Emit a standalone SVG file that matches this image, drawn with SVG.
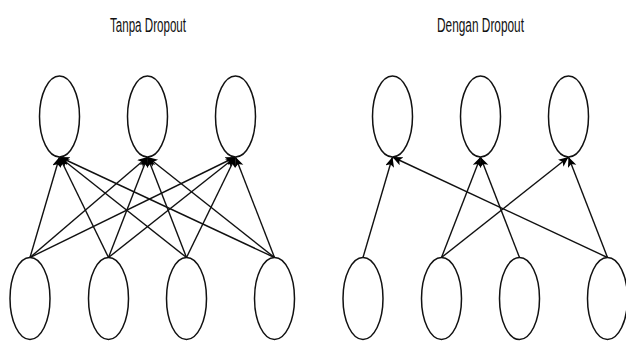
<svg xmlns="http://www.w3.org/2000/svg" width="626" height="341" viewBox="0 0 626 341">
  <style>
    .node { fill: #ffffff; stroke: #111111; stroke-width: 1.5; }
    .edge { fill: none; stroke: #111111; stroke-width: 1.4; marker-end: url(#arrow); }
    .title { font-family: "Liberation Sans", Arial, sans-serif; font-size: 20.5px; fill: #111111; text-anchor: middle; }
  </style>
  <defs>
    <marker id="arrow" markerUnits="userSpaceOnUse" markerWidth="13" markerHeight="11" refX="10" refY="4.5" orient="auto">
      <path d="M0,0 L10,4.5 L0,9 L2.5,4.5 Z" fill="#000000"/>
    </marker>
  </defs>

  <rect width="626" height="341" fill="#ffffff"/>

  <!-- titles -->
  <text class="title" x="148" y="31.5" textLength="76" lengthAdjust="spacingAndGlyphs">Tanpa Dropout</text>
  <text class="title" x="480.5" y="31.5" textLength="87" lengthAdjust="spacingAndGlyphs">Dengan Dropout</text>

  <!-- connectors -->
  <g id="connectors">
    <!-- fully connected: every input to every output -->
    <line class="edge" x1="30" y1="257.5" x2="59.5" y2="157"/>
    <line class="edge" x1="30" y1="257.5" x2="147.5" y2="157"/>
    <line class="edge" x1="30" y1="257.5" x2="235.5" y2="157"/>
    <line class="edge" x1="108.5" y1="257.5" x2="59.5" y2="157"/>
    <line class="edge" x1="108.5" y1="257.5" x2="147.5" y2="157"/>
    <line class="edge" x1="108.5" y1="257.5" x2="235.5" y2="157"/>
    <line class="edge" x1="186.5" y1="257.5" x2="59.5" y2="157"/>
    <line class="edge" x1="186.5" y1="257.5" x2="147.5" y2="157"/>
    <line class="edge" x1="186.5" y1="257.5" x2="235.5" y2="157"/>
    <line class="edge" x1="274.5" y1="257.5" x2="59.5" y2="157"/>
    <line class="edge" x1="274.5" y1="257.5" x2="147.5" y2="157"/>
    <line class="edge" x1="274.5" y1="257.5" x2="235.5" y2="157"/>
    <!-- thinned network -->
    <line class="edge" x1="363" y1="257.5" x2="392.5" y2="157"/>
    <line class="edge" x1="441.5" y1="257.5" x2="480.5" y2="157"/>
    <line class="edge" x1="441.5" y1="257.5" x2="568.5" y2="157"/>
    <line class="edge" x1="519.5" y1="257.5" x2="480.5" y2="157"/>
    <line class="edge" x1="607.5" y1="257.5" x2="392.5" y2="157"/>
    <line class="edge" x1="607.5" y1="257.5" x2="568.5" y2="157"/>
  </g>

  <!-- left network: output layer -->
  <g id="l-out-1"><ellipse class="node" cx="59.5" cy="116.5" rx="20" ry="40.5"/></g>
  <g id="l-out-2"><ellipse class="node" cx="147.5" cy="116.5" rx="20" ry="40.5"/></g>
  <g id="l-out-3"><ellipse class="node" cx="235.5" cy="116.5" rx="20" ry="40.5"/></g>
  <!-- left network: input layer -->
  <g id="l-in-1"><ellipse class="node" cx="30" cy="298.5" rx="20" ry="41"/></g>
  <g id="l-in-2"><ellipse class="node" cx="108.5" cy="298.5" rx="20" ry="41"/></g>
  <g id="l-in-3"><ellipse class="node" cx="186.5" cy="298.5" rx="20" ry="41"/></g>
  <g id="l-in-4"><ellipse class="node" cx="274.5" cy="298.5" rx="20" ry="41"/></g>

  <!-- right network: output layer -->
  <g id="r-out-1"><ellipse class="node" cx="392.5" cy="116.5" rx="20" ry="40.5"/></g>
  <g id="r-out-2"><ellipse class="node" cx="480.5" cy="116.5" rx="20" ry="40.5"/></g>
  <g id="r-out-3"><ellipse class="node" cx="568.5" cy="116.5" rx="20" ry="40.5"/></g>
  <!-- right network: input layer -->
  <g id="r-in-1"><ellipse class="node" cx="363" cy="298.5" rx="20" ry="41"/></g>
  <g id="r-in-2"><ellipse class="node" cx="441.5" cy="298.5" rx="20" ry="41"/></g>
  <g id="r-in-3"><ellipse class="node" cx="519.5" cy="298.5" rx="20" ry="41"/></g>
  <g id="r-in-4"><ellipse class="node" cx="607.5" cy="298.5" rx="20" ry="41"/></g>
</svg>
